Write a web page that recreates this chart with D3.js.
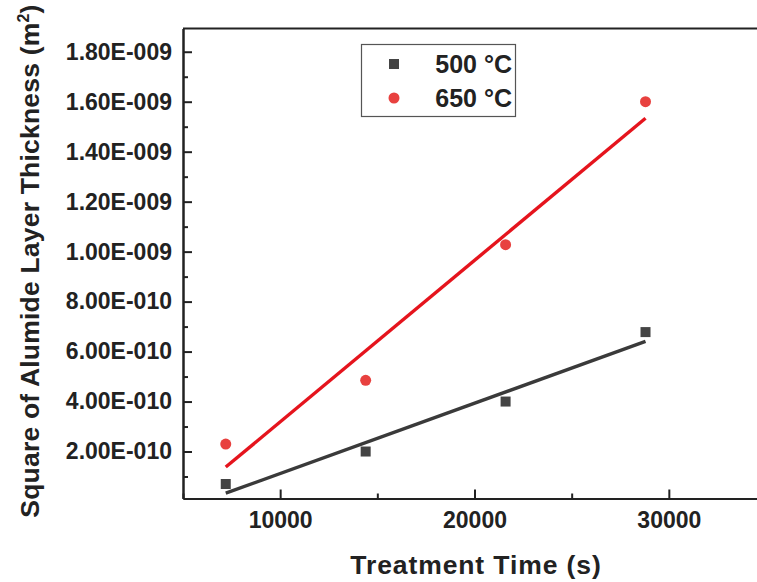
<!DOCTYPE html>
<html>
<head>
<meta charset="utf-8">
<script src="https://d3js.org/d3.v7.min.js"></script>
<style>
  body { margin: 0; background: #fff; }
  svg { display: block; font-family: "Liberation Sans", Arial, sans-serif; font-weight: bold; }
</style>
</head>
<body>
<div id="chart"></div>
<script>
// time in seconds
const times = [7200, 14400, 21600, 28800];
// square of alumide layer thickness (m^2)
const values500 = [0.70e-10, 2.00e-10, 4.00e-10, 6.78e-10];
const values650 = [2.30e-10, 4.85e-10, 10.28e-10, 16.00e-10];
const seriesNames = ["500 °C", "650 °C"];
const xTicks = [10000, 20000, 30000];
const xMinorTicks = [5000, 15000, 25000, 35000];
const yTicks = [2e-10, 4e-10, 6e-10, 8e-10, 1e-9, 1.2e-9, 1.4e-9, 1.6e-9, 1.8e-9];
const yMinorTicks = [1e-10, 3e-10, 5e-10, 7e-10, 9e-10, 1.1e-9, 1.3e-9, 1.5e-9, 1.7e-9];

const W = 757, H = 582;
const pLeft = 183, pRight = 766, pTop = 28.5, pBottom = 498.5;

const svg = d3.select("#chart").append("svg")
  .attr("width", W).attr("height", H);

const x = d3.scaleLinear().domain([5000, 35000]).range([pLeft, pRight]);
const y = d3.scaleLinear().domain([1.2e-11, 1.893e-9]).range([pBottom, pTop]);

// format like 1.80E-009
function sci(v) {
  const e = Math.floor(Math.log10(v) + 1e-9);
  const m = v / Math.pow(10, e);
  const es = String(Math.abs(e)).padStart(3, "0");
  return m.toFixed(2) + "E" + (e < 0 ? "-" : "+") + es;
}

// least squares fit
function fit(xs, ys) {
  const mx = d3.mean(xs), my = d3.mean(ys);
  let sxy = 0, sxx = 0;
  xs.forEach((v, i) => { sxy += (v - mx) * (ys[i] - my); sxx += (v - mx) * (v - mx); });
  const b = sxy / sxx;
  return t => my + b * (t - mx);
}

const axisColor = "#222";

// frame
svg.append("line").attr("x1", pLeft).attr("x2", pRight).attr("y1", pTop).attr("y2", pTop)
  .attr("stroke", axisColor).attr("stroke-width", 2);

// bottom axis
const gx = svg.append("g").attr("transform", `translate(0,${pBottom})`)
  .call(d3.axisBottom(x).tickValues(xTicks).tickFormat(d3.format("d")).tickSizeInner(-9).tickSizeOuter(0).tickPadding(13));
gx.append("g").call(d3.axisBottom(x).tickValues(xMinorTicks).tickFormat("").tickSizeInner(-5).tickSizeOuter(0));

// left axis
const gy = svg.append("g").attr("transform", `translate(${pLeft},0)`)
  .call(d3.axisLeft(y).tickValues(yTicks).tickFormat(sci).tickSizeInner(-9).tickSizeOuter(0).tickPadding(11));
gy.append("g").call(d3.axisLeft(y).tickValues(yMinorTicks).tickFormat("").tickSizeInner(-5).tickSizeOuter(0));

// right axis
const gr = svg.append("g").attr("transform", `translate(${pRight},0)`)
  .call(d3.axisRight(y).tickValues(yTicks).tickFormat("").tickSizeInner(-9).tickSizeOuter(0));

[gx, gy, gr].forEach(g => {
  g.selectAll("path.domain").attr("stroke", axisColor).attr("stroke-width", 2);
  g.selectAll("line").attr("stroke", axisColor).attr("stroke-width", 2);
  g.selectAll("text").attr("fill", "#222").style("font-size", "23px").style("font-family", "inherit");
});
gr.selectAll("line, path").attr("stroke", "#ccc").attr("stroke-width", 1.5);

// axis titles
svg.append("text")
  .attr("x", 476).attr("y", 574)
  .attr("text-anchor", "middle")
  .style("font-size", "26.5px").style("letter-spacing", "0.9px").attr("fill", "#222")
  .text("Treatment Time (s)");

const yt = svg.append("text")
  .attr("transform", "translate(39,261) rotate(-90)")
  .attr("text-anchor", "middle")
  .style("font-size", "26.5px").style("letter-spacing", "0.2px").attr("fill", "#222");
yt.append("tspan").text("Square of Alumide Layer Thickness (m");
yt.append("tspan").attr("dy", -10).style("font-size", "16px").text("2");
yt.append("tspan").attr("dy", 10).text(")");

// fit lines
const grayCol = "#3a3a3a", redCol = "#e5141d", redPt = "#e8413f";
const series = [
  { name: seriesNames[0], vals: values500, line: grayCol, pt: "#444" },
  { name: seriesNames[1], vals: values650, line: redCol, pt: redPt }
];
series.forEach(s => {
  const f = fit(times, s.vals);
  const t0 = d3.min(times), t1 = d3.max(times);
  svg.append("line")
    .attr("x1", x(t0)).attr("y1", y(f(t0)))
    .attr("x2", x(t1)).attr("y2", y(f(t1)))
    .attr("stroke", s.line).attr("stroke-width", 3.4);
});

// points
svg.selectAll(".sq").data(times).enter().append("rect")
  .attr("x", (d) => x(d) - 5).attr("y", (d, i) => y(values500[i]) - 5)
  .attr("width", 10).attr("height", 10).attr("fill", "#444");
svg.selectAll(".ci").data(times).enter().append("circle")
  .attr("cx", d => x(d)).attr("cy", (d, i) => y(values650[i]))
  .attr("r", 5.5).attr("fill", redPt);

// legend
const lg = svg.append("g");
lg.append("rect").attr("x", 361.5).attr("y", 44.5).attr("width", 154).attr("height", 72)
  .attr("fill", "none").attr("stroke", "#555").attr("stroke-width", 1.2);
lg.append("rect").attr("x", 389).attr("y", 59).attr("width", 10).attr("height", 10).attr("fill", "#444");
lg.append("circle").attr("cx", 394).attr("cy", 98).attr("r", 5.5).attr("fill", redPt);
lg.append("text").attr("x", 512).attr("y", 73).attr("text-anchor", "end")
  .style("font-size", "25px").attr("fill", "#222").text(seriesNames[0]);
lg.append("text").attr("x", 512).attr("y", 107).attr("text-anchor", "end")
  .style("font-size", "25px").attr("fill", "#222").text(seriesNames[1]);
</script>
</body>
</html>
